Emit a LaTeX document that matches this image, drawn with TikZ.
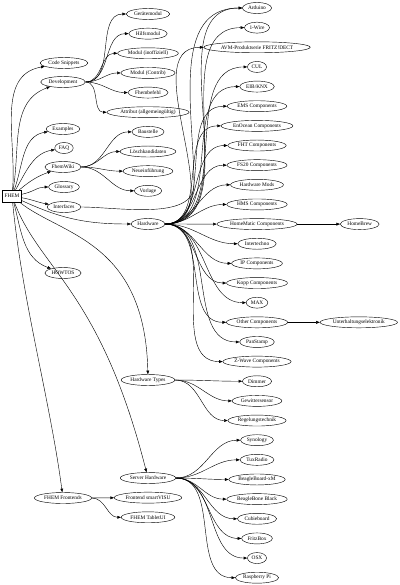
\documentclass[tikz,border=0pt]{standalone}
\usepackage{fontspec}
\setmainfont{Liberation Serif}
\usetikzlibrary{shapes.geometric,arrows.meta,positioning}

\begin{document}
\begin{tikzpicture}[
x=0.025cm, y=-0.025cm,
node distance=0.491cm,
every node/.style={draw, ellipse, inner sep=1pt, minimum height=7.8pt, line width=0.3pt, font=\fontsize{3.8}{4.5}\selectfont},
arrow/.style={-{Triangle[length=2.6pt,width=2pt]}, line width=0.3pt},
fan/.style={arrow, out=0, in=180}
]
\useasboundingbox (0,0) rectangle (400,585);

\node (fhem) [rectangle, minimum width=13.5pt, minimum height=8.5pt] at (12,196) {FHEM};

\node (snippets) at (64,63) {Code Snippets};
\node (development) at (63,82) {Development};
\node (examples) at (63,129) {Examples};
\node (faq) at (64,148) {FAQ};
\node (fhemwiki) at (63,167) {FhemWiki};
\node (glossary) at (64,187) {Glossary};
\node (interfaces) at (64,207) {Interfaces};
\node (howtos) at (63,273) {HOWTOS};
\node (frontends) at (63,498) {FHEM Frontends};

\node (geraetemodul) at (148,14) {Gerätemodul};
\node (hilfsmodul) [below of=geraetemodul] {Hilfsmodul};
\node (inoffiziell) [below of=hilfsmodul] {Modul (inoffiziell)};
\node (contrib) [below of=inoffiziell] {Modul (Contrib)};
\node (fhembefehl) [below of=contrib] {Fhembefehl};
\node (attribut) [below of=fhembefehl] {Attribut (allgemeingültig)};
\node (baustelle) [below of=attribut] {Baustelle};
\node (loeschen) [below of=baustelle] {Löschkandidaten};
\node (neu) [below of=loeschen] {Neueinführung};
\node (vorlage) [below of=neu] {Vorlage};
\node (hardware) at (148,224) {Hardware};
\node (hwtypes) at (148,380) {Hardware Types};
\node (serverhw) at (148,478) {Server Hardware};
\node (smartvisu) [below of=serverhw] {Frontend smartVISU};
\node (tabletui) [below of=smartvisu] {FHEM TabletUI};

\node (arduino) at (257,8) {Arduino};
\node (onewire) [below of=arduino] {1-Wire};
\node (avm) [below of=onewire] {AVM-Produktserie FRITZ!DECT};
\node (cul) [below of=avm] {CUL};
\node (eib) [below of=cul] {EIB/KNX};
\node (ems) [below of=eib] {EMS Components};
\node (enocean) [below of=ems] {EnOcean Components};
\node (fht) [below of=enocean] {FHT Components};
\node (fs20) [below of=fht] {FS20 Components};
\node (hwmods) [below of=fs20] {Hardware Mods};
\node (hms) [below of=hwmods] {HMS Components};
\node (homematic) [below of=hms] {HomeMatic Components};
\node (intertechno) [below of=homematic] {Intertechno};
\node (ip) [below of=intertechno] {IP Components};
\node (kopp) [below of=ip] {Kopp Components};
\node (max) [below of=kopp] {MAX};
\node (other) [below of=max] {Other Components};
\node (panstamp) [below of=other] {PanStamp};
\node (zwave) [below of=panstamp] {Z-Wave Components};
\node (dimmer) [below of=zwave] {Dimmer};
\node (gewitter) [below of=dimmer] {Gewittersensor};
\node (regelung) [below of=gewitter] {Regelungstechnik};
\node (synology) [below of=regelung] {Synology};
\node (tuxradio) [below of=synology] {TuxRadio};
\node (beagleboard) [below of=tuxradio] {BeagleBoard-xM};
\node (beaglebone) [below of=beagleboard] {BeagleBone Black};
\node (cubie) [below of=beaglebone] {Cubieboard};
\node (fritzbox) [below of=cubie] {FritzBox};
\node (osx) [below of=fritzbox] {OSX};
\node (raspi) [below of=osx] {Raspberry Pi};

\node (homebrew) [right=1.07cm of homematic] {HomeBrew};
\node (unterhaltung) [right=0.8cm of other] {Unterhaltungselektronik};

\coordinate (bend) at (194,185);

% FHEM
\draw[arrow] (fhem) to[out=85,in=190] (snippets);
\draw[arrow] (fhem) to[out=80,in=200] (development);
\draw[arrow] (fhem) to[out=70,in=190] (examples);
\draw[arrow] (fhem) to[out=60,in=190] (faq);
\draw[arrow] (fhem) to[out=40,in=200] (fhemwiki);
\draw[arrow] (fhem) to[out=10,in=180] (glossary);
\draw[arrow] (fhem) to[out=-10,in=170] (interfaces);
\draw[arrow] (fhem) to[out=-25,in=180] (hardware);
\draw[arrow] (fhem) to[out=-75,in=160] (howtos);
\draw[arrow] (fhem) .. controls (60,235) and (145,240) .. (hwtypes);
\draw[arrow] (fhem) .. controls (40,270) and (100,290) .. (serverhw);
\draw[arrow] (fhem) .. controls (22,300) and (50,400) .. (frontends);

% Development, FhemWiki
\foreach \n in {geraetemodul,hilfsmodul,inoffiziell,contrib,fhembefehl,attribut}
  \draw[fan] (development) to (\n);
\foreach \n in {baustelle,loeschen,neu,vorlage}
  \draw[fan] (fhemwiki) to (\n);

% Hardware
\draw[arrow] (interfaces) to[out=0,in=-90,looseness=0.8] (bend) to[out=90,in=180] (arduino);
\foreach \n in {arduino,onewire,avm,cul,eib,ems,enocean,fht,fs20,hwmods,hms,homematic,intertechno,ip,kopp,max,other,panstamp,zwave}
  \draw[fan] (hardware) to (\n);
\draw[arrow] (homematic) -- (homebrew);
\draw[arrow] (other) -- (unterhaltung);

\foreach \n in {dimmer,gewitter,regelung}
  \draw[fan] (hwtypes) to (\n);
\foreach \n in {synology,tuxradio,beagleboard,beaglebone,cubie,fritzbox,osx,raspi}
  \draw[fan] (serverhw) to (\n);

\draw[arrow] (frontends) -- (smartvisu);
\draw[fan] (frontends) to (tabletui);

\end{tikzpicture}
\end{document}
